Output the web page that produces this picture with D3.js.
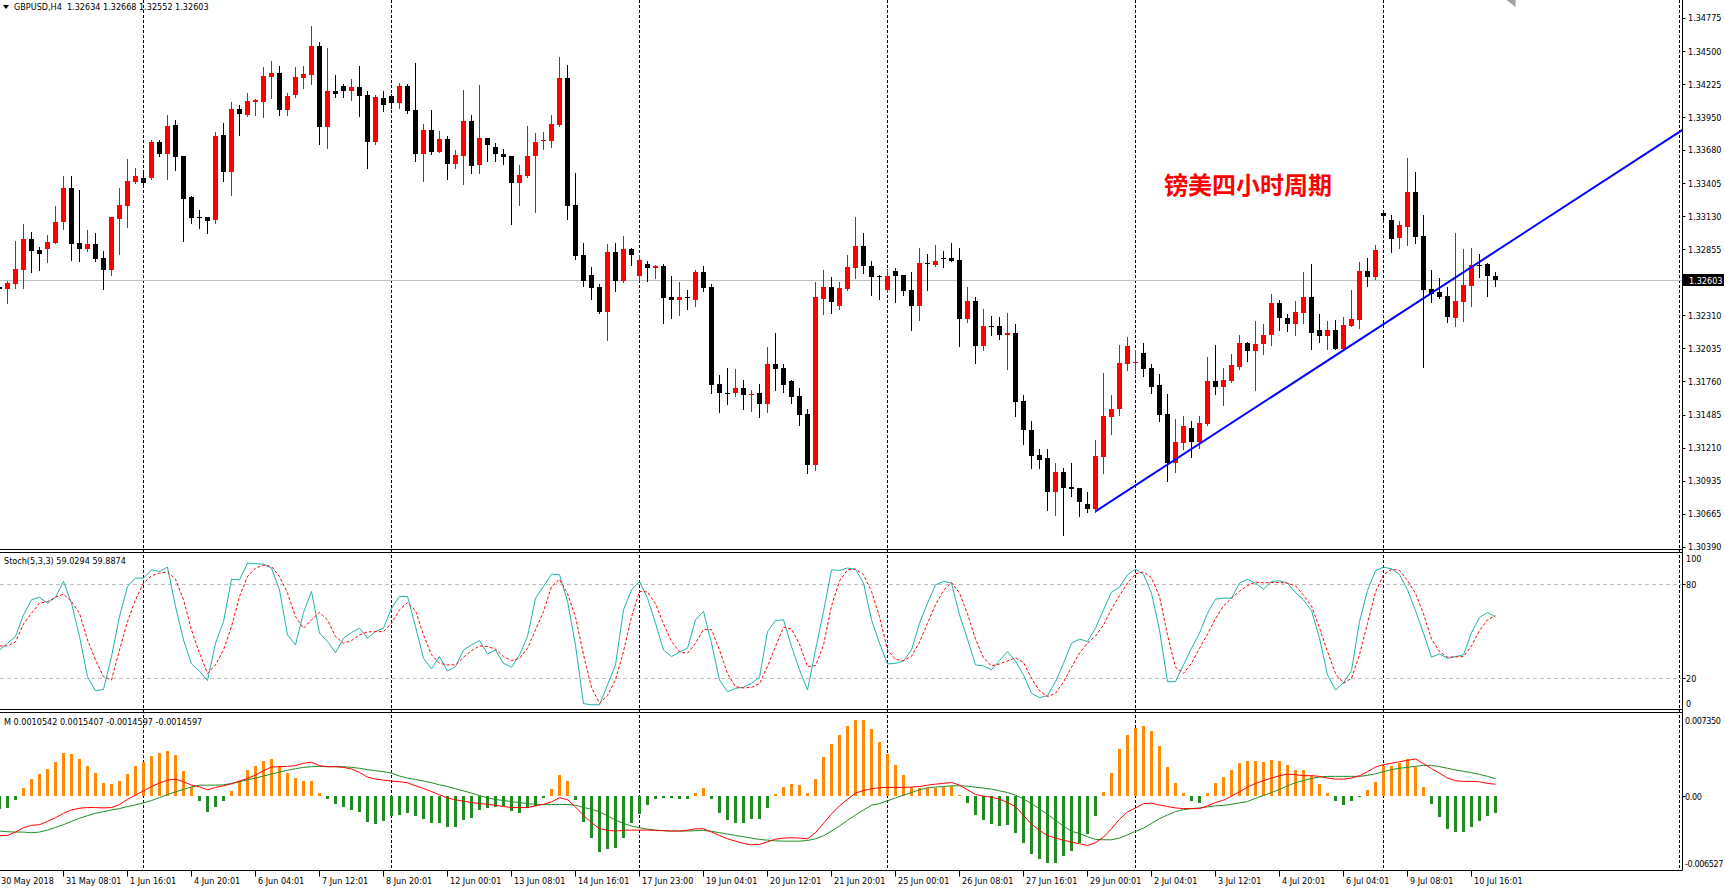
<!DOCTYPE html>
<html lang="en">
<head>
<meta charset="UTF-8">
<script src="https://d3js.org/d3.v7.min.js"></script>
<title>GBPUSD,H4</title>
<style>
  html, body { margin: 0; padding: 0; background: #fff; }
  svg { display: block; }
  text { font-family: "DejaVu Sans Condensed", "Liberation Sans", Arial, sans-serif; font-size: 9px; fill: #000; white-space: pre; }
</style>
</head>
<body>
<svg id="chart"></svg>
<script>
// ---- data (one entry per H4 bar, leftmost bar is only half visible) ----
// [open, high, low, close]
const candles = [
  [1.32541,1.32547,1.32519,1.32525],
  [1.32525,1.32597,1.32407,1.32575],[1.32567,1.32925,1.32533,1.32695],[1.32687,1.33065,1.32539,1.32945],
  [1.32945,1.33003,1.32665,1.32838],[1.32847,1.32877,1.32687,1.32821],[1.32855,1.32978,1.32754,1.32919],
  [1.32911,1.33211,1.32905,1.33085],[1.33085,1.33465,1.33023,1.33367],[1.33367,1.33465,1.32771,1.32903],
  [1.32911,1.33351,1.32763,1.32855],[1.32855,1.33012,1.32838,1.32903],[1.32903,1.32995,1.32763,1.32779],
  [1.32788,1.32838,1.32525,1.32687],[1.32687,1.33127,1.32639,1.33127],[1.33110,1.33367,1.32813,1.33227],
  [1.33219,1.33608,1.33037,1.33426],[1.33418,1.33533,1.33409,1.33465],[1.33451,1.33502,1.33376,1.33409],
  [1.33451,1.33759,1.33435,1.33748],[1.33748,1.33759,1.33633,1.33645],[1.33645,1.33972,1.33443,1.33880],
  [1.33888,1.33930,1.33516,1.33625],[1.33633,1.33633,1.32928,1.33275],[1.33286,1.33295,1.33076,1.33118],
  [1.33127,1.33185,1.33029,1.33121],[1.33127,1.33127,1.32995,1.33093],[1.33101,1.33832,1.33076,1.33799],
  [1.33807,1.33905,1.33426,1.33499],[1.33499,1.34079,1.33309,1.34023],[1.34023,1.34056,1.33807,1.33981],
  [1.33972,1.34154,1.33964,1.34087],[1.34081,1.34104,1.33972,1.34090],[1.34079,1.34370,1.33955,1.34294],
  [1.34286,1.34420,1.34112,1.34319],[1.34319,1.34378,1.33972,1.34014],[1.34014,1.34154,1.33972,1.34129],
  [1.34137,1.34370,1.34121,1.34286],[1.34277,1.34378,1.34196,1.34311],[1.34303,1.34709,1.34230,1.34543],
  [1.34543,1.34577,1.33731,1.33871],[1.33871,1.34527,1.33698,1.34171],[1.34171,1.34303,1.34121,1.34146],
  [1.34213,1.34230,1.34121,1.34171],[1.34171,1.34269,1.34095,1.34205],[1.34205,1.34378,1.33964,1.34129],
  [1.34137,1.34171,1.33527,1.33748],[1.33748,1.34137,1.33731,1.34121],
  [1.34112,1.34171,1.34006,1.34051],[1.34129,1.34146,1.34025,1.34065],[1.34073,1.34238,1.34031,1.34213],
  [1.34213,1.34230,1.33989,1.34006],[1.34014,1.34403,1.33591,1.33645],[1.33645,1.33897,1.33426,1.33849],
  [1.33849,1.34014,1.33645,1.33661],[1.33661,1.33841,1.33661,1.33773],[1.33773,1.33799,1.33443,1.33566],
  [1.33566,1.33681,1.33533,1.33642],[1.33633,1.34179,1.33401,1.33922],[1.33922,1.33972,1.33485,1.33549],
  [1.33558,1.34221,1.33485,1.33782],[1.33782,1.33782,1.33591,1.33717],[1.33706,1.33740,1.33591,1.33645],
  [1.33650,1.33689,1.33566,1.33625],[1.33633,1.33633,1.33065,1.33409],[1.33409,1.33558,1.33227,1.33474],
  [1.33465,1.33880,1.33457,1.33633],[1.33633,1.33824,1.33169,1.33748],[1.33751,1.33832,1.33684,1.33765],
  [1.33757,1.33972,1.33706,1.33897],[1.33888,1.34454,1.33880,1.34277],[1.34277,1.34387,1.33110,1.33219],
  [1.33227,1.33491,1.32774,1.32799],[1.32805,1.32911,1.32555,1.32597],[1.32639,1.32712,1.32441,1.32539],
  [1.32547,1.32572,1.32326,1.32340],[1.32340,1.32903,1.32102,1.32830],[1.32830,1.32911,1.32513,1.32597],
  [1.32597,1.32970,1.32589,1.32855],[1.32855,1.32863,1.32729,1.32805],[1.32631,1.32805,1.32603,1.32771],
  [1.32737,1.32763,1.32597,1.32704],[1.32704,1.32729,1.32614,1.32721],[1.32721,1.32737,1.32242,1.32449],
  [1.32457,1.32631,1.32289,1.32432],[1.32432,1.32589,1.32315,1.32463],[1.32463,1.32522,1.32365,1.32449],
  [1.32432,1.32687,1.32390,1.32665],[1.32665,1.32721,1.32513,1.32539],[1.32547,1.32572,1.31668,1.31727],
  [1.31743,1.31811,1.31511,1.31662],[1.31668,1.31875,1.31575,1.31662],[1.31662,1.31867,1.31637,1.31710],
  [1.31710,1.31769,1.31536,1.31645],[1.31648,1.31693,1.31519,1.31654],
  [1.31662,1.31743,1.31463,1.31570],[1.31570,1.32046,1.31511,1.31909],[1.31909,1.32158,1.31693,1.31867],
  [1.31875,1.31909,1.31676,1.31735],[1.31760,1.31769,1.31578,1.31629],[1.31637,1.31710,1.31396,1.31486],
  [1.31494,1.31536,1.30999,1.31066],[1.31066,1.32581,1.31024,1.32457],[1.32441,1.32687,1.32323,1.32547],
  [1.32547,1.32623,1.32331,1.32415],[1.32390,1.32589,1.32357,1.32539],[1.32530,1.32805,1.32522,1.32712],
  [1.32704,1.33127,1.32614,1.32886],[1.32886,1.32995,1.32662,1.32721],[1.32721,1.32763,1.32480,1.32623],
  [1.32631,1.32639,1.32441,1.32625],[1.32522,1.32695,1.32505,1.32631],[1.32679,1.32704,1.32415,1.32631],
  [1.32639,1.32639,1.32480,1.32513],[1.32522,1.32665,1.32183,1.32390],[1.32390,1.32869,1.32273,1.32746],
  [1.32746,1.32821,1.32522,1.32735],[1.32729,1.32894,1.32721,1.32763],[1.32788,1.32838,1.32712,1.32782],
  [1.32788,1.32911,1.32763,1.32763],[1.32771,1.32863,1.32051,1.32281],[1.32281,1.32547,1.32250,1.32424],
  [1.32424,1.32463,1.31917,1.32051],[1.32051,1.32357,1.32018,1.32217],[1.32217,1.32306,1.32149,1.32208],
  [1.32217,1.32298,1.32110,1.32149],[1.32149,1.32331,1.31867,1.32158],[1.32166,1.32233,1.31477,1.31587],
  [1.31595,1.31645,1.31239,1.31354],[1.31354,1.31430,1.31041,1.31139],[1.31147,1.31197,1.31041,1.31105],
  [1.31122,1.31197,1.30693,1.30842],[1.30842,1.31088,1.30651,1.31007],[1.31007,1.31041,1.30486,1.30881],
  [1.30889,1.31088,1.30808,1.30867],[1.30873,1.30881,1.30643,1.30758],[1.30741,1.30842,1.30677,1.30699],
  [1.30699,1.31279,1.30677,1.31139],[1.31130,1.31827,1.30999,1.31477],[1.31469,1.31645,1.31321,1.31536],
  [1.31536,1.32065,1.31486,1.31917],[1.31909,1.32133,1.31858,1.32051],
  [1.31917,1.32018,1.31833,1.31925],[1.31993,1.32077,1.31802,1.31867],[1.31875,1.31909,1.31668,1.31718],
  [1.31727,1.31819,1.31430,1.31486],[1.31494,1.31654,1.30931,1.31088],[1.31088,1.31452,1.31007,1.31256],
  [1.31248,1.31477,1.31197,1.31388],[1.31371,1.31430,1.31130,1.31256],[1.31256,1.31477,1.31206,1.31413],
  [1.31405,1.31959,1.31396,1.31760],[1.31760,1.32060,1.31654,1.31718],[1.31718,1.31875,1.31561,1.31769],
  [1.31760,1.31984,1.31752,1.31900],[1.31883,1.32149,1.31867,1.32082],[1.32082,1.32091,1.31934,1.32009],
  [1.32009,1.32259,1.31693,1.32074],[1.32074,1.32233,1.31984,1.32149],[1.32149,1.32488,1.32060,1.32407],
  [1.32407,1.32432,1.32191,1.32289],[1.32289,1.32323,1.32175,1.32233],[1.32233,1.32424,1.32149,1.32340],
  [1.32331,1.32665,1.32242,1.32463],[1.32463,1.32737,1.32026,1.32166],[1.32183,1.32323,1.32091,1.32141],
  [1.32141,1.32259,1.32026,1.32183],[1.32183,1.32267,1.32026,1.32026],[1.32026,1.32298,1.32018,1.32225],
  [1.32217,1.32522,1.32217,1.32281],[1.32273,1.32754,1.32200,1.32679],[1.32679,1.32788,1.32555,1.32623],
  [1.32623,1.32894,1.32606,1.32847],[1.33157,1.33169,1.33079,1.33129],[1.33101,1.33143,1.32830,1.32945],
  [1.32953,1.33093,1.32863,1.33054],[1.33037,1.33617,1.32894,1.33334],[1.33334,1.33499,1.32905,1.32961],
  [1.32970,1.33143,1.31878,1.32522],[1.32530,1.32687,1.32415,1.32488],[1.32505,1.32614,1.32455,1.32463],
  [1.32471,1.32547,1.32250,1.32298],[1.32289,1.32995,1.32217,1.32424],[1.32415,1.32855,1.32259,1.32564],
  [1.32555,1.32869,1.32390,1.32729],[1.32729,1.32821,1.32623,1.32723],[1.32737,1.32746,1.32471,1.32631],
  [1.32634,1.32668,1.32552,1.32603]
];

// Stoch(5,3,3) main (%K) and signal (%D)
const stochK = [
  38.0,42.3,46.6,60.4,70.0,71.6,67.8,71.6,81.7,67.8,46.6,21.0,11.9,12.9,33.8,59.3,78.5,83.8,83.8,89.1,88.0,90.8,65.7,44.4,
  29.1,24.6,18.5,42.3,56.1,83.1,82.7,93.4,93.0,92.7,90.2,76.3,47.6,41.2,61.9,75.3,48.7,43.4,36.3,45.5,49.1,51.9,45.5,49.7,
  51.9,64.6,72.1,72.1,52.9,32.7,26.0,33.8,24.6,27.4,38.0,41.2,44.0,35.5,38.0,29.5,27.0,34.9,46.6,71.0,78.5,86.3,86.0,69.0,
  41.0,3.8,3.1,3.1,15.7,28.5,63.6,76.3,81.7,71.0,55.0,38.0,33.8,36.6,39.1,57.2,62.5,42.3,18.9,11.4,13.6,14.2,16.8,
  20.6,49.7,56.8,57.2,40.2,25.3,12.5,38.0,62.5,89.1,88.7,90.2,89.5,80.6,57.2,42.3,29.1,29.5,31.0,38.0,55.0,67.8,79.5,81.7,
  80.6,60.4,44.9,28.5,27.8,25.3,31.2,37.0,31.0,22.1,10.4,7.6,8.9,17.8,29.5,42.3,44.9,43.4,51.9,63.6,74.9,78.0,85.9,
  89.5,86.3,74.2,50.8,17.8,17.8,28.5,39.1,48.7,61.4,70.4,71.0,71.0,80.6,83.1,80.6,76.8,81.7,82.1,80.6,74.6,69.9,63.1,45.5,
  22.1,12.5,17.2,24.9,56.1,75.9,88.5,90.8,89.7,86.1,76.3,63.0,48.7,33.4,35.5,32.7,33.8,34.9,49.1,58.7,61.9,59.0294
];
const stochD = [
  40.6,40.6,43.1,54.6,61.4,67.8,68.9,71.6,73.6,68.9,61.4,44.4,31.7,21.0,18.9,38.0,56.1,70.0,80.6,85.3,87.0,87.8,83.1,70.0,
  50.8,35.9,23.1,28.5,38.0,52.9,72.1,84.8,90.2,92.1,91.2,84.8,74.2,59.3,51.9,57.2,61.9,57.2,46.6,42.3,44.0,47.6,49.5,49.7,
  49.7,55.0,63.6,68.2,63.1,47.6,34.9,29.5,28.5,28.5,33.4,37.6,40.6,40.2,38.5,33.8,31.2,32.7,39.1,50.8,62.5,78.5,83.0,74.0,
  59.0,35.0,14.0,4.0,9.0,19.0,37.0,59.0,75.3,75.0,67.5,54.6,43.4,36.8,35.9,42.3,51.0,51.0,38.0,23.0,14.6,13.8,14.2,
  16.6,27.5,40.2,52.5,51.4,41.7,27.5,28.0,41.0,66.0,82.0,89.1,89.5,86.0,75.3,59.3,38.0,32.0,31.2,34.0,43.0,55.0,66.8,76.0,
  81.0,74.2,61.0,44.9,33.0,27.8,29.1,31.0,33.1,30.0,20.0,11.9,8.3,10.4,17.5,27.0,36.0,42.3,46.9,53.9,64.0,72.7,80.6,
  86.5,87.8,84.0,72.1,47.6,27.0,23.1,29.5,39.1,48.0,58.0,66.1,71.0,75.5,79.0,81.2,80.8,81.0,81.0,80.6,78.9,73.0,66.0,52.0,
  37.0,23.0,16.8,20.0,35.0,55.0,75.0,85.9,89.5,88.7,82.3,74.0,61.0,45.0,37.0,33.4,33.6,33.8,40.6,50.4,57.2,59.8874
];

// MACD values in units of 0.0001
const macdHist = [
  -11.5,-10.0,-3.2,7.1,15.0,19.4,23.9,30.3,38.0,37.1,32.7,26.8,20.3,11.5,10.6,13.6,19.4,26.2,30.3,35.1,38.0,39.8,36.2,22.4,
  7.7,-4.1,-13.8,-9.4,-4.1,4.4,13.6,23.0,26.8,31.2,32.7,26.2,20.3,15.9,13.6,13.6,3.2,-2.7,-6.5,-9.4,-12.1,-13.8,-22.7,-24.5,
  -22.1,-17.4,-16.5,-14.4,-17.4,-20.3,-23.6,-23.3,-27.1,-27.1,-20.9,-18.9,-12.4,-10.0,-9.4,-8.5,-13.0,-14.4,-10.0,-8.5,-1.5,6.2,18.4,13.4,
  -3.2,-22.5,-36.5,-49.0,-46.3,-45.4,-36.5,-23.3,-15.9,-8.0,-2.1,-1.2,-1.2,-2.1,-2.1,3.2,7.1,-2.7,-14.4,-20.9,-23.3,-23.3,-20.3,
  -19.7,-10.3,1.5,8.5,10.3,9.7,3.2,15.0,34.5,46.0,53.3,61.3,67.2,67.2,59.2,48.0,37.1,27.4,18.6,8.5,6.8,6.8,6.8,8.0,
  9.1,1.2,-5.6,-16.5,-20.9,-24.7,-26.2,-25.6,-32.7,-41.5,-50.4,-55.1,-58.6,-58.6,-52.7,-48.3,-41.5,-33.6,-17.4,3.8,20.3,41.5,53.9,
  59.8,61.6,56.9,43.9,25.3,11.5,3.2,-4.1,-6.2,2.4,11.5,16.5,23.3,28.9,30.9,30.9,29.8,31.8,30.6,27.4,23.3,23.3,18.6,10.6,
  3.2,-4.1,-7.4,-4.1,-0.6,5.6,12.7,26.8,26.8,28.9,32.7,25.3,8.2,-7.1,-18.0,-28.6,-31.5,-31.5,-26.8,-21.8,-17.4,-14.597
];
const macdMain = [
  -34.5,-34.5,-31.5,-27.7,-25.6,-25.0,-22.1,-18.9,-15.0,-12.1,-10.6,-10.0,-10.0,-10.3,-10.0,-7.4,-2.7,0.9,4.7,8.5,11.5,14.1,15.0,12.7,
  9.7,8.2,5.6,7.7,9.1,10.9,13.3,15.6,18.6,22.4,25.6,25.9,26.2,26.8,28.9,29.8,26.8,25.9,25.9,25.3,23.9,20.9,16.8,15.0,
  14.1,13.3,12.7,11.8,9.1,6.8,4.1,1.2,-1.5,-3.2,-4.4,-5.6,-6.5,-7.1,-8.0,-9.1,-10.0,-10.0,-10.0,-8.5,-7.1,-5.0,-1.4,-3.1,
  -9.5,-16.7,-23.3,-28.5,-30.0,-30.6,-30.0,-29.8,-29.8,-29.8,-30.0,-30.3,-30.6,-30.6,-30.0,-28.6,-28.6,-31.5,-34.5,-37.4,-39.5,-41.5,-42.7,
  -42.4,-40.1,-37.7,-36.8,-36.5,-36.8,-37.4,-32.1,-23.9,-15.6,-8.5,-2.7,2.7,5.0,6.5,7.4,7.7,7.7,7.7,8.0,8.5,9.7,10.6,11.2,
  12.1,9.7,5.6,1.5,0.0,-0.9,-2.7,-5.6,-9.1,-16.8,-24.5,-30.0,-34.5,-36.8,-38.6,-40.4,-41.8,-43.3,-40.9,-35.9,-28.6,-20.3,-13.8,
  -10.3,-6.5,-6.2,-7.7,-9.1,-10.3,-10.9,-10.9,-10.9,-8.5,-5.6,-3.5,0.0,3.8,8.0,11.2,13.6,15.9,18.0,19.4,18.9,18.0,18.0,17.4,
  15.9,15.0,15.0,15.9,18.0,21.5,25.6,27.7,28.9,30.3,31.5,32.7,28.6,24.2,20.3,15.9,13.6,13.0,13.0,12.7,11.2,10.542
];
const macdSignal = [
  -30.6,-31.2,-31.5,-31.5,-32.1,-31.5,-29.8,-27.4,-25.0,-22.1,-19.4,-17.1,-15.0,-13.6,-12.1,-10.9,-9.1,-7.7,-5.9,-3.8,-1.2,1.5,3.8,5.9,
  8.2,9.7,9.7,9.7,10.0,11.2,12.7,14.4,15.9,17.7,19.4,21.2,22.7,24.2,25.3,25.9,26.2,25.9,25.9,25.9,25.3,24.5,23.3,22.4,
  21.5,20.3,17.7,15.9,14.7,13.3,11.8,10.0,8.5,6.5,4.7,2.7,0.6,-1.5,-2.9,-3.8,-4.7,-5.6,-6.5,-7.1,-7.4,-7.4,-7.3,-7.3,
  -8.0,-9.9,-11.5,-13.7,-17.4,-20.9,-23.9,-26.2,-27.7,-28.9,-29.8,-30.3,-30.6,-30.6,-30.6,-30.3,-30.0,-30.9,-32.1,-33.3,-34.5,-35.6,-36.8,
  -38.0,-38.6,-39.2,-39.5,-39.5,-39.5,-38.9,-37.4,-34.8,-30.6,-26.2,-21.2,-16.5,-12.1,-8.0,-6.5,-4.1,-1.5,0.9,3.2,5.6,7.4,8.0,8.5,
  9.1,9.1,8.8,7.9,7.1,6.2,4.7,3.2,0.9,-2.4,-6.5,-11.2,-15.9,-21.2,-26.2,-30.9,-32.7,-35.6,-38.0,-38.3,-38.3,-36.8,-33.9,
  -30.9,-28.0,-23.9,-19.7,-16.5,-13.6,-11.8,-10.9,-10.3,-9.4,-8.5,-8.0,-7.1,-5.9,-4.7,-1.8,0.6,3.2,5.9,9.1,11.8,13.8,15.6,16.8,
  17.4,17.4,17.4,17.4,17.4,18.3,19.7,21.5,23.3,24.5,25.3,26.2,27.1,27.1,25.9,24.5,23.0,21.8,20.6,19.1,17.4,15.407
];

// time axis: bar index -> label
const timeLabelBars = [0,8,16,24,32,40,48,56,64,72,80,88,96,104,112,120,128,136,144,152,160,168,176,184];
const timeLabelText = ["30 May 2018","31 May 08:01","1 Jun 16:01","4 Jun 20:01","6 Jun 04:01","7 Jun 12:01","8 Jun 20:01",
  "12 Jun 00:01","13 Jun 08:01","14 Jun 16:01","17 Jun 23:00","19 Jun 04:01","20 Jun 12:01","21 Jun 20:01","25 Jun 00:01",
  "26 Jun 08:01","27 Jun 16:01","29 Jun 00:01","2 Jul 04:01","3 Jul 12:01","4 Jul 20:01","6 Jul 04:01","9 Jul 08:01","10 Jul 16:01"];
const weekStartBars = [18, 49, 80, 111, 142, 173];
const priceTicks = [1.34775,1.34500,1.34225,1.33950,1.33680,1.33405,1.33130,1.32855,1.32310,1.32035,1.31760,1.31485,1.31210,1.30935,1.30665,1.30390];
const stochTicks = [100, 80, 20, 0];
const stochLevels = [80, 20];
const macdTicks = [73.50, 0, -65.27];
const macdTickText = ["0.007350", "0.00", "-0.006527"];
const trendPoints = [[137, 1.30685], [187, 1.32838]];
const noteText = "镑美四小时周期";
const notePos = [145.6, 1.33400];

// ---- layout ----
const width = 1725, height = 890;
const axisX = 1682.5;
const mainBottom = 549.5, stochTop = 552.5, stochBottom = 709.5, macdTop = 712.5, macdBottom = 870.5;

const svg = d3.select("#chart").attr("width", width).attr("height", height);

const x = d3.scaleLinear().domain([0, 210]).range([-0.7, 1679.3]);
const cx = j => Math.round(x(j)) + 0.5;
const yP = d3.scaleLinear().domain([1.30367, 1.34923]).range([mainBottom, 0]);
const yS = d3.scaleLinear().domain([0, 100]).range([709.6, 552.7]);
const yM = d3.scaleLinear().domain([-65.27, 73.50]).range([macdBottom, macdTop]);
const hyphen = s => s.replace(/\u2212/g, "-");

const defs = svg.append("defs");
function addClip(id, y0, y1) {
  defs.append("clipPath").attr("id", id).append("rect")
    .attr("x", 0).attr("y", y0).attr("width", axisX).attr("height", y1 - y0);
}
addClip("clipMain", 0, mainBottom);
addClip("clipStoch", stochTop + 0.5, stochBottom);
addClip("clipMacd", macdTop + 0.5, macdBottom);

// weekly separators and right edge dotted line
svg.append("g").selectAll("line").data(weekStartBars.concat([210])).join("line")
  .attr("x1", d => cx(d)).attr("x2", d => cx(d)).attr("y1", 0).attr("y2", macdBottom)
  .attr("stroke", "#000").attr("stroke-width", 1).attr("stroke-dasharray", "3,2");

// ---- main pane ----
const gMain = svg.append("g").attr("clip-path", "url(#clipMain)");
const last = candles[candles.length - 1];
gMain.append("line")
  .attr("x1", 0).attr("x2", axisX)
  .attr("y1", Math.round(yP(last[3])) + 0.5).attr("y2", Math.round(yP(last[3])) + 0.5)
  .attr("stroke", "#c0c0c0");

const colorOf = d => d[3] > d[0] ? "#ff0000" : "#000000";
gMain.append("g").selectAll("line").data(candles).join("line")
  .attr("x1", (d, j) => cx(j)).attr("x2", (d, j) => cx(j))
  .attr("y1", d => Math.round(yP(d[1]))).attr("y2", d => Math.round(yP(d[2])) + 1)
  .attr("stroke", colorOf).attr("stroke-width", 1);
gMain.append("g").selectAll("rect").data(candles).join("rect")
  .attr("x", (d, j) => cx(j) - 2.5).attr("width", 5)
  .attr("y", d => Math.round(yP(Math.max(d[0], d[3]))))
  .attr("height", d => Math.max(1, Math.round(yP(Math.min(d[0], d[3]))) - Math.round(yP(Math.max(d[0], d[3])))))
  .attr("fill", colorOf);

// trend line (ray to the right edge)
const slope = (trendPoints[1][1] - trendPoints[0][1]) / (trendPoints[1][0] - trendPoints[0][0]);
const jEnd = x.invert(axisX);
gMain.append("line")
  .attr("x1", x(trendPoints[0][0]) + 0.5).attr("y1", yP(trendPoints[0][1]))
  .attr("x2", x(jEnd)).attr("y2", yP(trendPoints[0][1] + slope * (jEnd - trendPoints[0][0])))
  .attr("stroke", "#0000ff").attr("stroke-width", 2);

gMain.append("text")
  .attr("x", x(notePos[0])).attr("y", yP(notePos[1]))
  .attr("dominant-baseline", "central")
  .style("font-family", '"Noto Sans CJK SC", sans-serif').style("font-size", "24px").style("font-weight", "700")
  .style("fill", "#ff0000")
  .text(noteText);

// chart shift marker
svg.append("path")
  .attr("d", d3.line()([[cx(189) - 5, 0], [cx(189) + 4, 0], [cx(189) + 4, 7]]))
  .attr("fill", "#a0a0a0");

// header
svg.append("path").attr("d", "M3,5 L9,5 L6,9 Z").attr("fill", "#000");
svg.append("text").attr("x", 14).attr("y", 10)
  .text("GBPUSD,H4  " + last.map(d3.format(".5f")).join(" "));

// ---- stochastic pane ----
const gSt = svg.append("g").attr("clip-path", "url(#clipStoch)");
gSt.selectAll("line.level").data(stochLevels).join("line").attr("class", "level")
  .attr("x1", 0).attr("x2", axisX)
  .attr("y1", d => Math.round(yS(d)) + 0.5).attr("y2", d => Math.round(yS(d)) + 0.5)
  .attr("stroke", "#c0c0c0").attr("stroke-dasharray", "4,3");
gSt.append("path")
  .attr("d", d3.line().x((d, j) => cx(j)).y(d => yS(d))(stochK))
  .attr("fill", "none").attr("stroke", "#20b2aa").attr("stroke-width", 1);
gSt.append("path")
  .attr("d", d3.line().x((d, j) => cx(j)).y(d => yS(d))(stochD))
  .attr("fill", "none").attr("stroke", "#ff0000").attr("stroke-width", 1).attr("stroke-dasharray", "3,2");
svg.append("text").attr("x", 4).attr("y", 564)
  .text("Stoch(5,3,3) " + d3.format(".4f")(stochK[stochK.length - 1]) + " " + d3.format(".4f")(stochD[stochD.length - 1]));

// ---- MACD pane ----
const gM = svg.append("g").attr("clip-path", "url(#clipMacd)");
gM.selectAll("rect").data(macdHist).join("rect")
  .attr("x", (d, j) => cx(j) - 1.5).attr("width", 3)
  .attr("y", d => Math.round(yM(Math.max(0, d))))
  .attr("height", d => Math.max(1, Math.abs(Math.round(yM(d)) - Math.round(yM(0)))))
  .attr("fill", d => d >= 0 ? "#ff8c00" : "#228b22");
gM.append("path")
  .attr("d", d3.line().x((d, j) => cx(j)).y(d => yM(d))(macdSignal))
  .attr("fill", "none").attr("stroke", "#228b22").attr("stroke-width", 1);
gM.append("path")
  .attr("d", d3.line().x((d, j) => cx(j)).y(d => yM(d))(macdMain))
  .attr("fill", "none").attr("stroke", "#ff0000").attr("stroke-width", 1);
const f7 = v => hyphen(d3.format(".7f")(v / 10000));
svg.append("text").attr("x", 4).attr("y", 725)
  .text("M " + [macdMain[macdMain.length - 1], macdSignal[macdSignal.length - 1], macdHist[macdHist.length - 1], macdHist[macdHist.length - 1]].map(f7).join(" "));

// ---- frame ----
svg.append("g").selectAll("line").data([mainBottom, stochTop, stochBottom, macdTop, macdBottom]).join("line")
  .attr("x1", 0).attr("x2", axisX).attr("y1", d => d).attr("y2", d => d)
  .attr("stroke", "#000");
svg.append("line").attr("x1", axisX).attr("x2", axisX).attr("y1", 0).attr("y2", macdBottom).attr("stroke", "#000");

// price axis
const gPA = svg.append("g");
gPA.selectAll("line").data(priceTicks).join("line")
  .attr("x1", axisX).attr("x2", axisX + 3)
  .attr("y1", d => Math.round(yP(d)) + 0.5).attr("y2", d => Math.round(yP(d)) + 0.5).attr("stroke", "#000");
gPA.selectAll("text").data(priceTicks).join("text")
  .attr("x", 1688).attr("y", d => yP(d) + 3.5).text(d3.format(".5f"));
const yLast = Math.round(yP(last[3]));
gPA.append("rect").attr("x", axisX + 0.5).attr("y", yLast - 6).attr("width", 41).attr("height", 12).attr("fill", "#000");
gPA.append("text").attr("x", 1689).attr("y", yLast + 3.5).style("fill", "#fff").text(d3.format(".5f")(last[3]));

// stoch axis
const clamp = (v, a, b) => Math.max(a, Math.min(b, v));
svg.append("g").selectAll("text").data(stochTicks).join("text")
  .attr("x", 1686).attr("y", d => clamp(yS(d), stochTop + 6, stochBottom - 6) + 3.5).text(d => d);
svg.append("g").selectAll("line").data(stochLevels).join("line")
  .attr("x1", axisX).attr("x2", axisX + 3)
  .attr("y1", d => Math.round(yS(d)) + 0.5).attr("y2", d => Math.round(yS(d)) + 0.5).attr("stroke", "#000");

// macd axis (kept inside the page edge)
svg.append("g").selectAll("text").data(macdTicks).join("text")
  .attr("x", 1685).attr("y", (d, i) => clamp(yM(d), macdTop + 7.5, macdBottom - 7) + 3.5)
  .style("letter-spacing", "-0.4px")
  .text((d, i) => macdTickText[i]);
svg.append("line").attr("x1", axisX).attr("x2", axisX + 3)
  .attr("y1", Math.round(yM(0)) + 0.5).attr("y2", Math.round(yM(0)) + 0.5).attr("stroke", "#000");

// time axis
const gT = svg.append("g");
gT.selectAll("line").data(timeLabelBars.slice(1)).join("line")
  .attr("x1", d => cx(d)).attr("x2", d => cx(d))
  .attr("y1", macdBottom).attr("y2", macdBottom + 6).attr("stroke", "#000");
gT.selectAll("text").data(timeLabelBars).join("text")
  .attr("x", (d, i) => i === 0 ? 1 : cx(d) + 2.5).attr("y", 884)
  .text((d, i) => timeLabelText[i]);
</script>
</body>
</html>
